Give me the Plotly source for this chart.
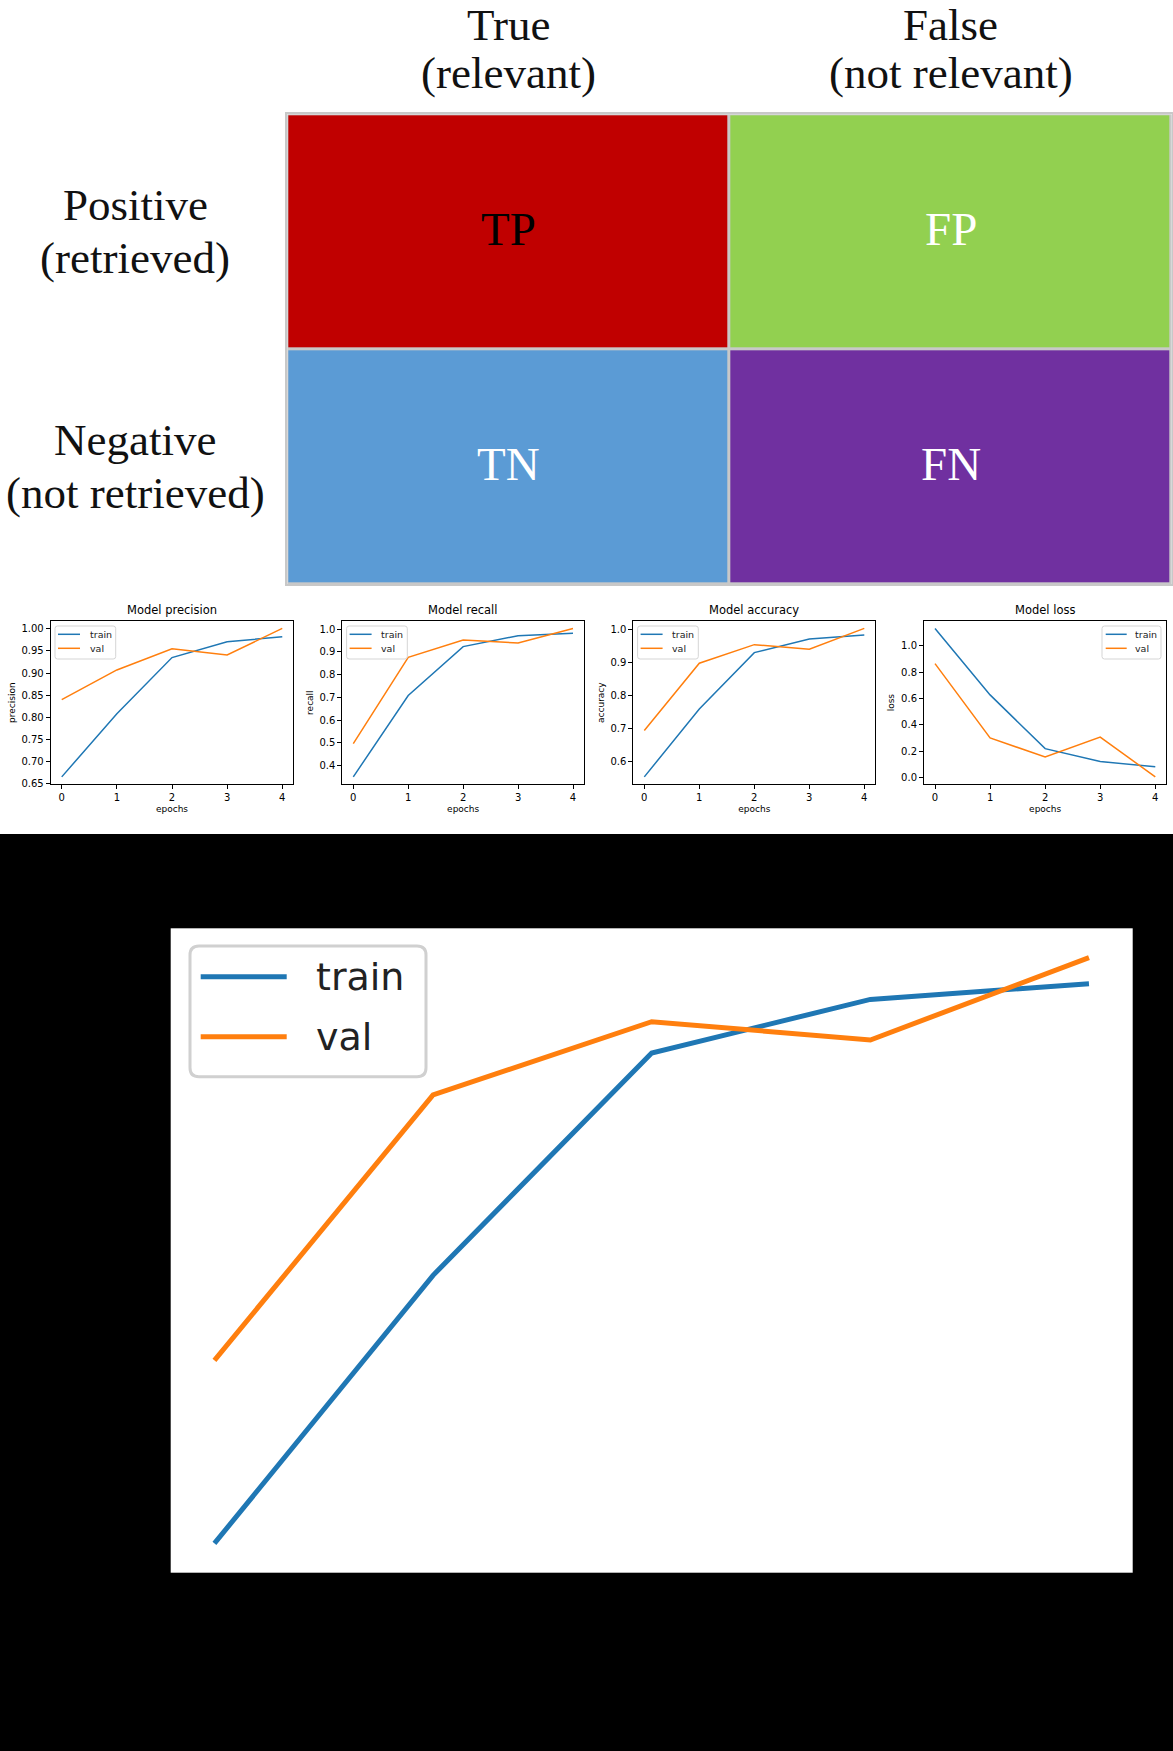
import plotly.graph_objects as go

W, H = 1173, 1751

# ---------------- data ----------------
matrix_cols = ["True<br>(relevant)", "False<br>(not relevant)"]
matrix_rows = ["Positive<br>(retrieved)", "Negative<br>(not retrieved)"]
matrix_cells = [["TP", "FP"], ["TN", "FN"]]
matrix_index = [[0, 1], [2, 3]]
matrix_colors = ["#C00000", "#92D050", "#5B9BD5", "#7030A0"]
matrix_text_colors = [["#000000", "#FFFFFF"], ["#FFFFFF", "#FFFFFF"]]

epochs = [0, 1, 2, 3, 4]
precision_train = [0.665, 0.808, 0.935, 0.971, 0.982]
precision_val = [0.840, 0.907, 0.955, 0.941, 1.001]
recall_train = [0.350, 0.708, 0.923, 0.971, 0.982]
recall_val = [0.496, 0.876, 0.952, 0.939, 1.003]
accuracy_train = [0.554, 0.759, 0.929, 0.970, 0.982]
accuracy_val = [0.694, 0.897, 0.953, 0.939, 1.002]
loss_train = [1.131, 0.627, 0.219, 0.121, 0.081]
loss_val = [0.864, 0.300, 0.156, 0.307, 0.005]

series_names = ["train", "val"]
series_colors = ["#1f77b4", "#ff7f0e"]

small_titles = ["Model precision", "Model recall", "Model accuracy", "Model loss"]
small_ylabels = ["precision", "recall", "accuracy", "loss"]
small_data = [(precision_train, precision_val), (recall_train, recall_val),
              (accuracy_train, accuracy_val), (loss_train, loss_val)]
small_ytick = [(0.05, ".2f"), (0.1, ".1f"), (0.1, ".1f"), (0.2, ".1f")]
small_legend_right = [False, False, False, True]

# ---------------- layout helpers ----------------
def dom_x(a, b):
    return [a / W, b / W]


def dom_y(top, bot):
    return [1 - bot / H, 1 - top / H]


def mpl_range(values):
    lo, hi = min(values), max(values)
    pad = 0.05 * (hi - lo)
    return [lo - pad, hi + pad]


def rounded_path(x0, x1, y0, y1, r):
    # y0 > y1 (pixel, up is positive)
    return (f"M{x0+r},{y0} L{x1-r},{y0} Q{x1},{y0} {x1},{y0-r} "
            f"L{x1},{y1+r} Q{x1},{y1} {x1-r},{y1} L{x0+r},{y1} "
            f"Q{x0},{y1} {x0},{y1+r} L{x0},{y0-r} Q{x0},{y0} {x0+r},{y0} Z")


fig = go.Figure()
shapes = []
annotations = []

# white top area over black page
shapes.append(dict(type="rect", xref="paper", yref="paper", x0=0, x1=1,
                   y0=1 - 834 / H, y1=1, fillcolor="white", line_width=0, layer="below"))

# ---------------- confusion matrix ----------------
mx0, my0, mx1, my1 = 287.3, 114.3, 1171.7, 584.3
n = len(matrix_colors)
cscale = [[i / (n - 1), c] for i, c in enumerate(matrix_colors)]
fig.add_trace(go.Heatmap(
    x=matrix_cols, y=matrix_rows, z=matrix_index, colorscale=cscale,
    zmin=0, zmax=n - 1, showscale=False, xgap=3, ygap=3, hoverinfo="skip",
    xaxis="x", yaxis="y"))
shapes.append(dict(type="rect", xref="x domain", yref="y domain", x0=0, x1=1, y0=0, y1=1,
                   fillcolor="#c8c8c8", line_width=0, layer="below"))

serif = "Liberation Serif"
for i, r in enumerate(matrix_rows):
    for j, c in enumerate(matrix_cols):
        annotations.append(dict(x=c, y=r, xref="x", yref="y", text=matrix_cells[i][j],
                                showarrow=False, yshift=3,
                                font=dict(family=serif, size=47, color=matrix_text_colors[i][j])))

# column headers (one annotation per line for exact line spacing)
col_line_y = [25, 73]
for c in matrix_cols:
    for line, yy in zip(c.split("<br>"), col_line_y):
        annotations.append(dict(x=c, xref="x", y=1 - yy / H, yref="paper", text=line,
                                showarrow=False, yanchor="middle", align="center",
                                font=dict(family=serif, size=45, color="#111111")))
# row headers
row_line_dy = [-27, 26]
for r in matrix_rows:
    for line, dy in zip(r.split("<br>"), row_line_dy):
        annotations.append(dict(x=135 / W, xref="paper", y=r, yref="y", text=line,
                                showarrow=False, xanchor="center", yanchor="middle",
                                yshift=-dy, align="center",
                                font=dict(family=serif, size=45, color="#111111")))

layout_axes = {}
layout_axes["xaxis"] = dict(domain=dom_x(mx0, mx1), anchor="y", showticklabels=False,
                            ticks="", showgrid=False, zeroline=False, showline=True,
                            mirror=True, linecolor="#c8c8c8", linewidth=2)
layout_axes["yaxis"] = dict(domain=dom_y(my0, my1), anchor="x", showticklabels=False,
                            ticks="", showgrid=False, zeroline=False, showline=True,
                            mirror=True, linecolor="#c8c8c8", linewidth=2,
                            autorange="reversed")

# ---------------- small training charts ----------------
sans = "DejaVu Sans"
small_x = [(50.7, 293.3), (342.3, 584.0), (633.3, 875.3), (924.0, 1166.3)]
s_top, s_bot = 621.0, 784.3
for k in range(4):
    ax = k + 2
    xr, yr = f"x{ax}", f"y{ax}"
    tr, va = small_data[k]
    for s, vals in enumerate((tr, va)):
        fig.add_trace(go.Scatter(x=epochs, y=vals, mode="lines", name=series_names[s],
                                 line=dict(color=series_colors[s], width=1.5),
                                 showlegend=False, xaxis=xr, yaxis=yr))
    dt, fmt = small_ytick[k]
    common = dict(showgrid=False, zeroline=False, showline=True, mirror=True,
                  linecolor="black", linewidth=1, ticks="outside", ticklen=4,
                  tickwidth=1, tickcolor="black",
                  tickfont=dict(family=sans, size=10, color="black"))
    layout_axes[f"xaxis{ax}"] = dict(domain=dom_x(*small_x[k]), anchor=yr,
                                     range=[-0.2, 4.2], dtick=1, tick0=0,
                                     title=dict(text="epochs", standoff=3,
                                                font=dict(family=sans, size=9, color="black")),
                                     **common)
    layout_axes[f"yaxis{ax}"] = dict(domain=dom_y(s_top, s_bot), anchor=xr,
                                     range=mpl_range(list(tr) + list(va)),
                                     dtick=dt, tick0=0, tickformat=fmt,
                                     title=dict(text=small_ylabels[k], standoff=4,
                                                font=dict(family=sans, size=9, color="black")),
                                     **common)
    annotations.append(dict(x=0.5, xref=f"{xr} domain", y=1, yref=f"{yr} domain",
                            yanchor="bottom", yshift=2, text=small_titles[k], showarrow=False,
                            font=dict(family=sans, size=11.5, color="black")))
    # legend
    right = small_legend_right[k]
    anc = 1 if right else 0
    if right:
        bx0, bx1, hx0, hx1, tx = -64.3, -5.3, -60.6, -39.6, -33.5
    else:
        bx0, bx1, hx0, hx1, tx = 4.3, 65.0, 7.3, 29.3, 37.0
    shapes.append(dict(type="path", xref=f"{xr} domain", yref=f"{yr} domain",
                       xsizemode="pixel", ysizemode="pixel", xanchor=anc, yanchor=1,
                       path=rounded_path(bx0, bx1, -5, -38, 2.5),
                       fillcolor="rgba(255,255,255,0.8)", line=dict(color="#d5d5d5", width=1)))
    for s, yy in enumerate((-13.3, -27.3)):
        shapes.append(dict(type="line", xref=f"{xr} domain", yref=f"{yr} domain",
                           xsizemode="pixel", ysizemode="pixel", xanchor=anc, yanchor=1,
                           x0=hx0, x1=hx1, y0=yy, y1=yy,
                           line=dict(color=series_colors[s], width=1.5)))
        annotations.append(dict(x=anc, xref=f"{xr} domain", y=1, yref=f"{yr} domain",
                                xanchor="left", yanchor="middle", xshift=tx, yshift=yy,
                                text=series_names[s], showarrow=False,
                                font=dict(family=sans, size=9.5, color="#222222")))

# ---------------- large accuracy chart on black ----------------
bx0p, by0p, bx1p, by1p = 170.7, 928.3, 1132.7, 1572.7
for s, vals in enumerate((accuracy_train, accuracy_val)):
    fig.add_trace(go.Scatter(x=epochs, y=vals, mode="lines", name=series_names[s],
                             line=dict(color=series_colors[s], width=5),
                             showlegend=False, xaxis="x6", yaxis="y6"))
layout_axes["xaxis6"] = dict(domain=dom_x(bx0p, bx1p), anchor="y6", range=[-0.2, 4.2],
                             showticklabels=False, ticks="", showgrid=False,
                             zeroline=False, showline=False)
layout_axes["yaxis6"] = dict(domain=dom_y(by0p, by1p), anchor="x6",
                             range=mpl_range(accuracy_train + accuracy_val),
                             showticklabels=False, ticks="", showgrid=False,
                             zeroline=False, showline=False)
shapes.append(dict(type="path", xref="x6 domain", yref="y6 domain",
                   xsizemode="pixel", ysizemode="pixel", xanchor=0, yanchor=1,
                   path=rounded_path(19.3, 255.3, -17.7, -148.4, 9),
                   fillcolor="rgba(255,255,255,0.8)", line=dict(color="#d0d0d0", width=3)))
for s, yy in enumerate((-48.4, -108.4)):
    shapes.append(dict(type="line", xref="x6 domain", yref="y6 domain",
                       xsizemode="pixel", ysizemode="pixel", xanchor=0, yanchor=1,
                       x0=30, x1=116, y0=yy, y1=yy,
                       line=dict(color=series_colors[s], width=5)))
    annotations.append(dict(x=0, xref="x6 domain", y=1, yref="y6 domain",
                            xanchor="left", yanchor="middle", xshift=143, yshift=yy,
                            text=series_names[s], showarrow=False,
                            font=dict(family=sans, size=38, color="#222222")))

fig.update_layout(
    width=W, height=H, margin=dict(l=0, r=0, t=0, b=0, autoexpand=False),
    paper_bgcolor="black", plot_bgcolor="white", showlegend=False,
    shapes=shapes, annotations=annotations, **layout_axes)

fig.write_html("out.html")
